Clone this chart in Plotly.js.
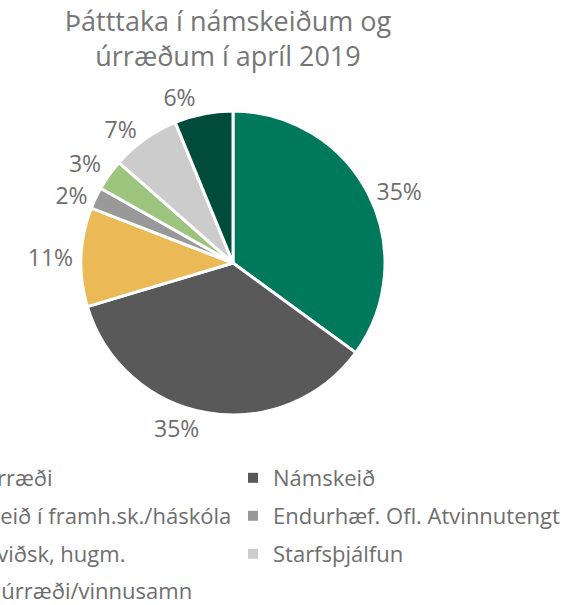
<!DOCTYPE html>
<html>
<head>
<meta charset="utf-8">
<script src="https://cdn.plot.ly/plotly-3.0.1.min.js"></script>
<style>html,body{margin:0;padding:0;background:#fff;overflow:hidden}#chart{width:585px;height:605px}.pielayer .textline{display:none}</style>
</head>
<body>
<div id="chart"></div>
<script>
// ---- data ----
const titleText = 'Þátttaka í námskeiðum og<br>úrræðum í apríl 2019';
const labels = ['Ýmis úrræði', 'Námskeið', 'Námskeið í framh.sk./háskóla', 'Endurhæf. Ofl. Atvinnutengt', 'Þróun viðsk, hugm.', 'Starfsþjálfun', 'Önnur úrræði/vinnusamn'];
const values = [35.0, 35.3, 10.5, 2.3, 3.3, 7.3, 6.2];
const colors = ['#00785C', '#595959', '#EBB955', '#999999', '#9DC47D', '#CCCCCC', '#004B39'];

// ---- style ----
const W = 585, H = 605;
const textColor = '#6e6e6e';
const fontFam = '"Open Sans", "Noto Sans", sans-serif';
const cx = 233, cy = 263, R = 152;

const traces = [{
  type: 'pie',
  labels: labels,
  values: values,
  sort: false,
  direction: 'clockwise',
  rotation: 0,
  marker: {colors: colors, line: {color: '#ffffff', width: 3}},
  textposition: 'outside',
  texttemplate: '%{percent:.0%}',
  outsidetextfont: {size: 23, color: textColor, family: fontFam},
  showlegend: false,
  hoverinfo: 'none',
  domain: {x: [(cx - R) / W, (cx + R) / W], y: [1 - (cy + R) / H, 1 - (cy - R) / H]}
}];

// legend entries: two columns, row-major
const colTextX = [-71, 273];
const rowY = [478, 516, 554, 591];
const layoutLegends = {};
labels.forEach((lab, i) => {
  const key = i === 0 ? 'legend' : 'legend' + (i + 1);
  traces.push({
    type: 'scatter', mode: 'markers', x: [null], y: [null],
    name: lab, legend: key, showlegend: true, hoverinfo: 'none',
    marker: {symbol: 'square', size: 10, color: colors[i]}
  });
  const col = i % 2, row = Math.floor(i / 2);
  layoutLegends[key] = {
    x: (colTextX[col] - 40) / W, xanchor: 'left',
    y: 1 - rowY[row] / H, yanchor: 'middle',
    orientation: 'h',
    bgcolor: 'rgba(0,0,0,0)',
    font: {size: 22, color: textColor, family: fontFam}
  };
});

const layout = Object.assign({
  width: W, height: H,
  margin: {l: 0, r: 0, t: 0, b: 0, autoexpand: false},
  paper_bgcolor: '#ffffff', plot_bgcolor: '#ffffff',
  title: {
    text: titleText,
    x: 228 / W, xanchor: 'center', xref: 'paper',
    y: 1 - 31 / H, yanchor: 'top', yref: 'container',
    font: {size: 27, color: '#767676', family: fontFam}
  },
  xaxis: {visible: false, fixedrange: true},
  yaxis: {visible: false, fixedrange: true},
  showlegend: true,
  font: {family: fontFam, color: textColor}
}, layoutLegends);

Plotly.newPlot('chart', traces, layout, {staticPlot: true, displayModeBar: false});
</script>
</body>
</html>
